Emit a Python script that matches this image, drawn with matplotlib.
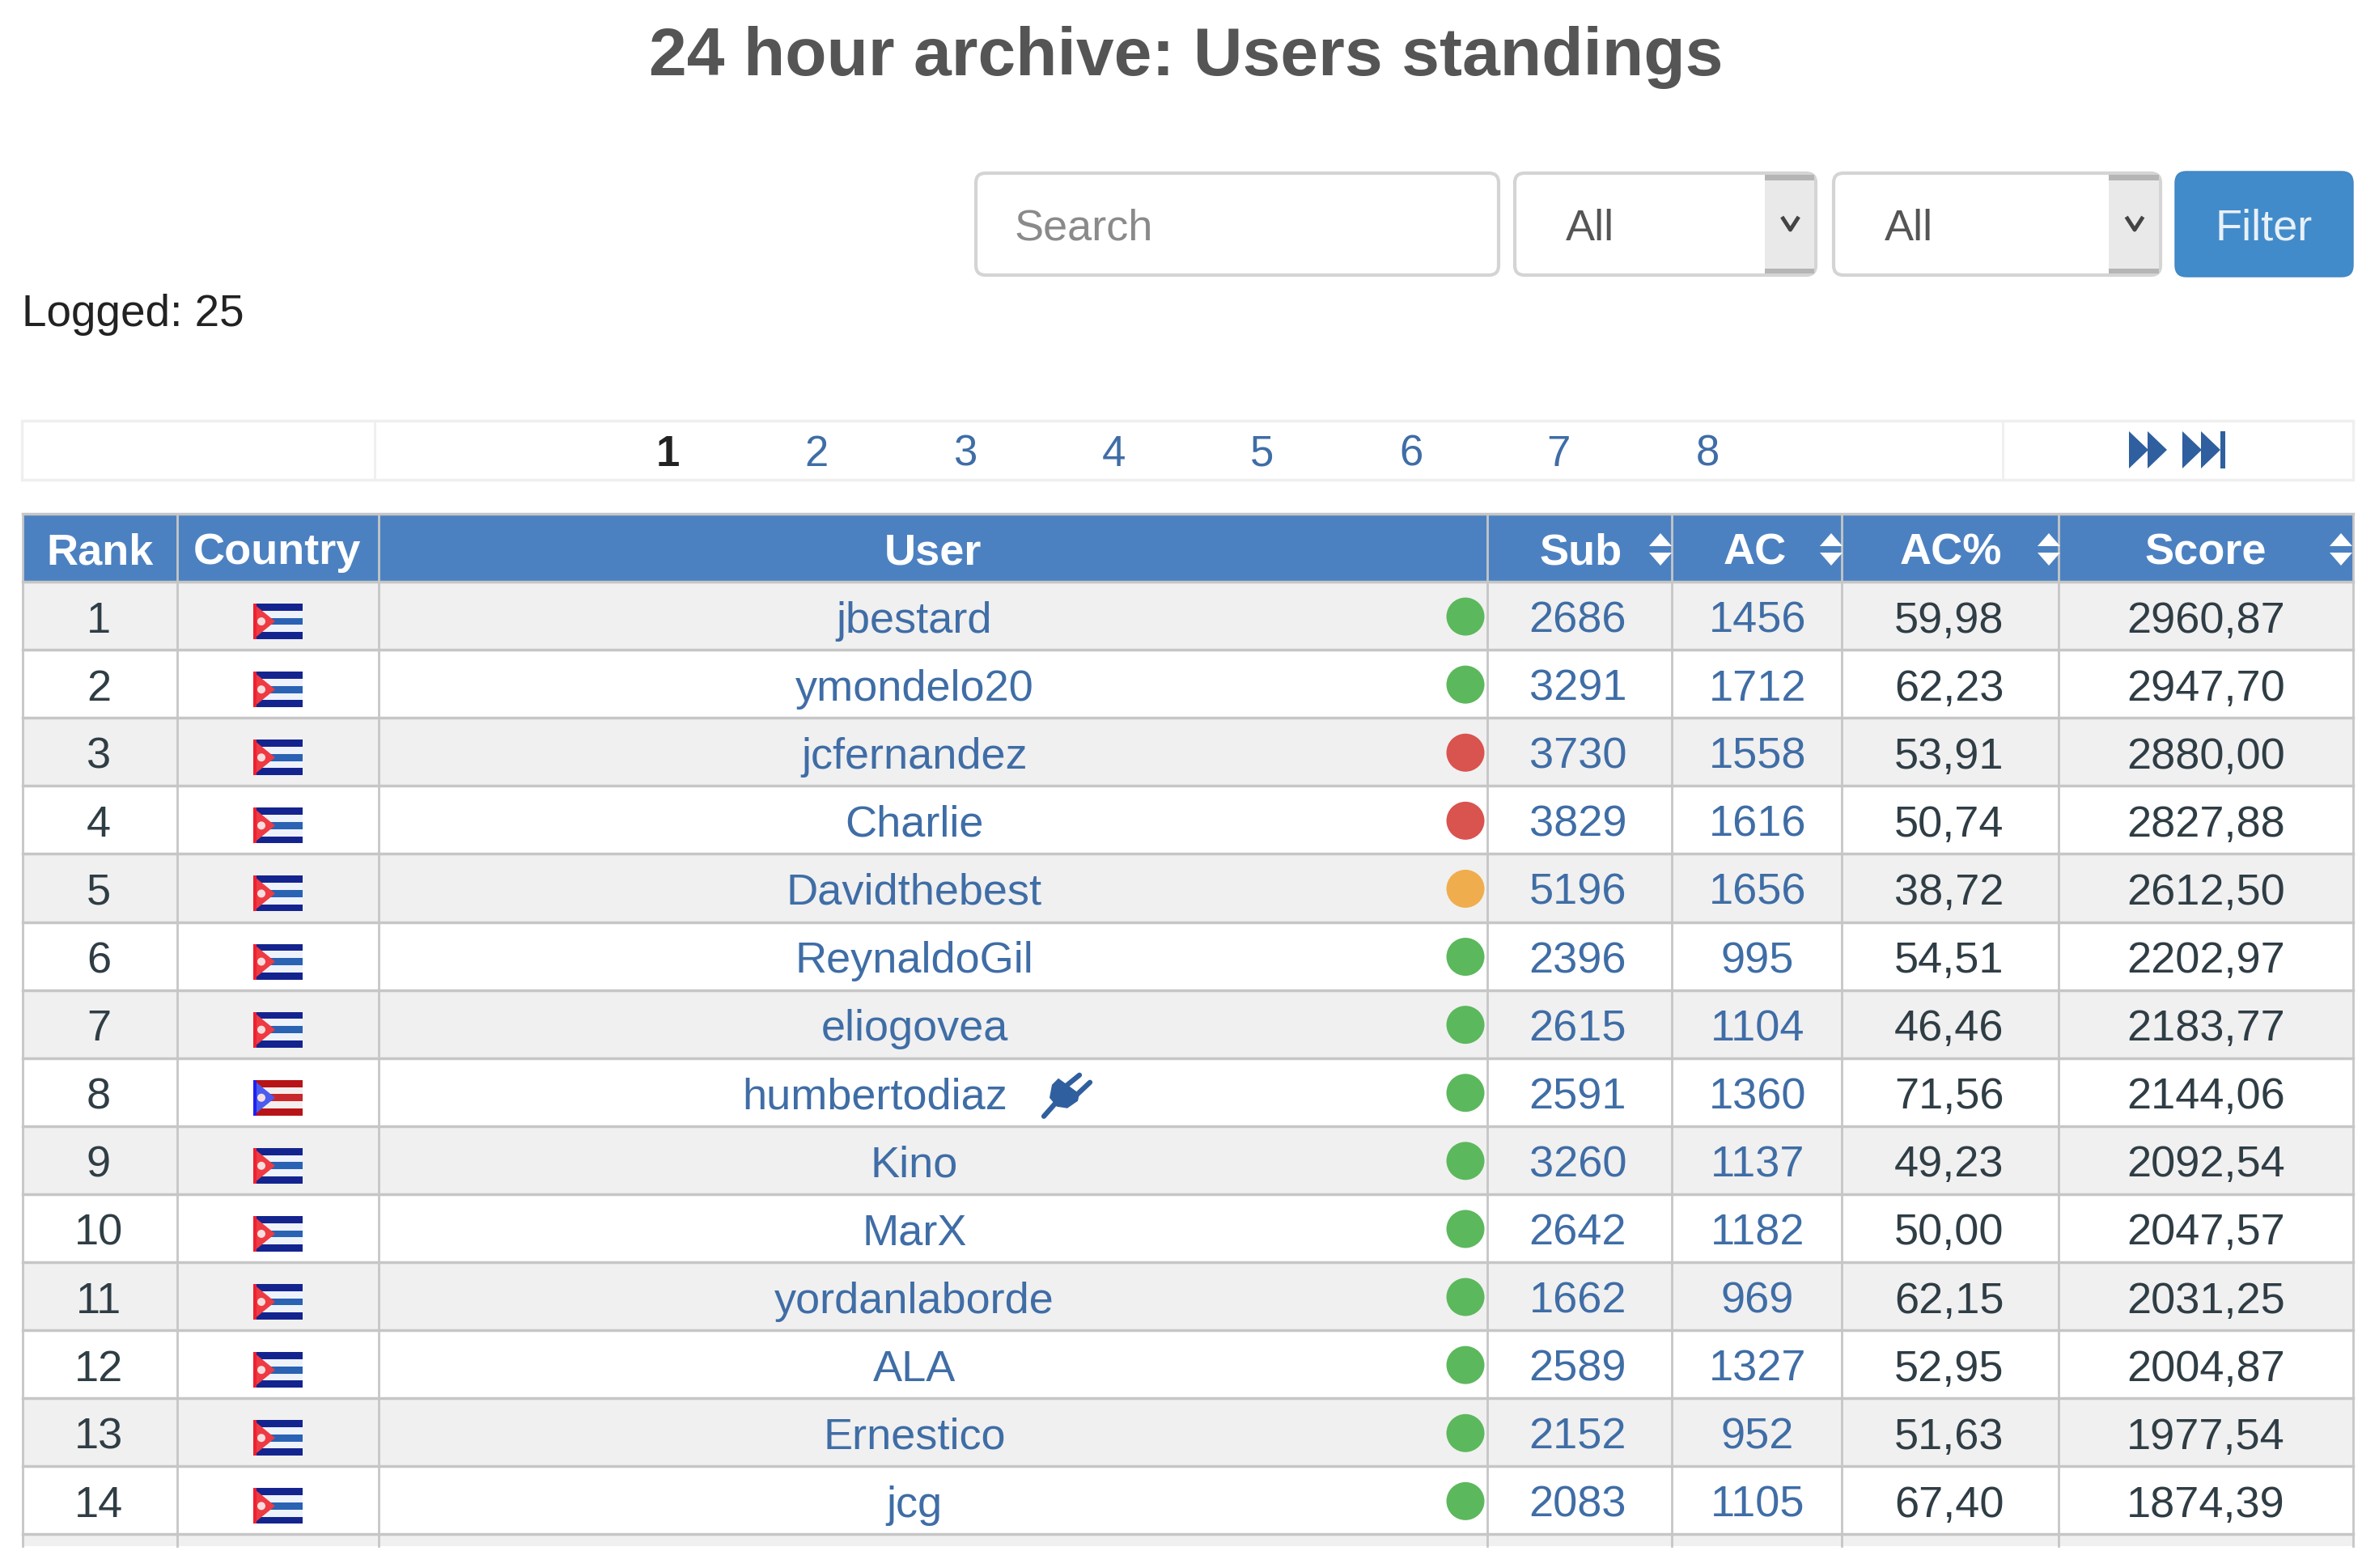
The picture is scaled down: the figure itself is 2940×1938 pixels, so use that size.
import matplotlib
matplotlib.use("Agg")
import matplotlib.pyplot as plt
from matplotlib.patches import Rectangle, FancyBboxPatch, Polygon, Circle

plt.rcParams['font.family'] = ['Liberation Sans', 'DejaVu Sans']

title = "24 hour archive: Users standings"
logged = "Logged: 25"
pages = ["1", "2", "3", "4", "5", "6", "7", "8"]
headers = ["Rank", "Country", "User", "Sub", "AC", "AC%", "Score"]
ranks = list(range(1, 15))
users = ["jbestard", "ymondelo20", "jcfernandez", "Charlie", "Davidthebest", "ReynaldoGil",
         "eliogovea", "humbertodiaz", "Kino", "MarX", "yordanlaborde", "ALA", "Ernestico", "jcg"]
status = ["g", "g", "r", "r", "o", "g", "g", "g", "g", "g", "g", "g", "g", "g"]
subs = [2686, 3291, 3730, 3829, 5196, 2396, 2615, 2591, 3260, 2642, 1662, 2589, 2152, 2083]
acs = [1456, 1712, 1558, 1616, 1656, 995, 1104, 1360, 1137, 1182, 969, 1327, 952, 1105]
acp = ["59,98", "62,23", "53,91", "50,74", "38,72", "54,51", "46,46", "71,56", "49,23",
       "50,00", "62,15", "52,95", "51,63", "67,40"]
scores = ["2960,87", "2947,70", "2880,00", "2827,88", "2612,50", "2202,97", "2183,77",
          "2144,06", "2092,54", "2047,57", "2031,25", "2004,87", "1977,54", "1874,39"]
flags = ["cu"] * 7 + ["pr"] + ["cu"] * 6

W, H = 2940, 1938
fig = plt.figure(figsize=(W / 100, H / 100), dpi=100)
ax = fig.add_axes([0, 0, 1, 1])
ax.set_xlim(0, W)
ax.set_ylim(H, 0)
ax.axis("off")

HEAD = "#4c81c1"
LINE = "#c6c6c6"
LINK = "#3f6da6"
DARK = "#2f3d45"
ICON = "#2f5f9e"
STATUS = {"g": "#5cb85c", "r": "#d9534f", "o": "#f0ad4e"}
FS = 39


def rect(x0, y0, x1, y1, fc, z=1, ec="none", lw=0):
    ax.add_patch(Rectangle((x0, y0), x1 - x0, y1 - y0, fc=fc, ec=ec, lw=lw, zorder=z))


def txt(x, y, s, color=DARK, size=FS, ha="center", weight="normal"):
    ax.text(x, y, s, color=color, fontsize=size, ha=ha, va="center_baseline", fontweight=weight, zorder=6)


def rbox(x0, y0, x1, y1, fc, ec, lw=3, r=12, z=2):
    ax.add_patch(FancyBboxPatch((x0 + r, y0 + r), x1 - x0 - 2 * r, y1 - y0 - 2 * r,
                                boxstyle=f"round,pad={r},rounding_size={r}", fc=fc, ec=ec, lw=lw, zorder=z))


# title and filter row
txt(1466, 62, title, color="#555555", size=60.5, weight="bold")
rbox(1206, 214, 1852, 340, "white", "#d4d4d4")
txt(1254, 277, "Search", color="#8a8a8a", ha="left")
for x0, x1, ax0, tx in [(1872, 2244, 2181, 1935), (2266, 2670, 2606, 2329)]:
    rbox(x0, 214, x1, 340, "white", "#d4d4d4")
    rect(ax0, 218, x1 - 2, 337, "#e9e9e9", z=3)
    rect(ax0, 216, x1 - 2, 223, "#b5b5b5", z=3)
    rect(ax0, 332, x1 - 2, 338, "#b5b5b5", z=3)
    cx = (ax0 + x1) / 2
    ax.plot([cx - 9, cx, cx + 9], [270, 284, 270], color="#444444", lw=3.5, zorder=4)
    txt(tx, 277, "All", color="#555555", ha="left")
rbox(2688, 212, 2908, 342, "#428bca", "#3f85c2", lw=1, r=14)
txt(2798, 277, "Filter", color="#e8f0f8")
txt(27, 383, logged, color="#222222", ha="left", size=39.5)

# pager
rect(27, 520, 2908, 593, "white", z=1, ec="#efefef", lw=2.5)
for x in [463, 2475]:
    ax.plot([x, x], [520, 593], color="#efefef", lw=2, zorder=2)
page_x = [825, 1009, 1193, 1376, 1560, 1744, 1926, 2110]
for i, (x, p) in enumerate(zip(page_x, pages)):
    if i == 0:
        txt(x, 556, p, color="#222222", weight="bold", size=38)
    else:
        txt(x, 556, p, color=LINK, size=38)
for x0 in [2631, 2654, 2697, 2720]:
    ax.add_patch(Polygon([(x0, 533), (x0 + 24, 556), (x0, 579)], fc=ICON, zorder=5))
rect(2744, 533, 2750, 579, ICON, z=5)

# table geometry
cols = [28, 219, 468, 1838, 2066, 2276, 2544, 2908]
top, head_bot = 635, 719
pitch = 84.1
bottom = 1911

rect(cols[0], top, cols[-1], head_bot, HEAD)
for r in range(15):
    y0 = head_bot + r * pitch
    y1 = min(y0 + pitch, bottom)
    rect(cols[0], y0, cols[-1], y1, "#f0f0f0" if r % 2 == 0 else "white")
for r in range(15):
    y = head_bot + r * pitch
    ax.plot([cols[0], cols[-1]], [y, y], color=LINE, lw=2.5, zorder=3)
ax.plot([cols[0], cols[-1]], [top, top], color=LINE, lw=2.5, zorder=3)
for x in cols:
    ax.plot([x, x], [top, bottom], color=LINE, lw=2, zorder=3)

# header
head_x = [124, 342, 1153, 1954, 2169, 2411, 2726]
for x, h in zip(head_x, headers):
    txt(x, 678, h, color="white", weight="bold")
for x in [2052, 2263, 2532, 2893]:
    ax.add_patch(Polygon([(x - 14, 675), (x, 659), (x + 14, 675)], fc="white", zorder=5))
    ax.add_patch(Polygon([(x - 14, 683), (x, 699), (x + 14, 683)], fc="white", zorder=5))


def flag(x0, y0, kind):
    w, h = 61, 44
    x1, ym = x0 + w, y0 + h / 2
    if kind == "cu":
        stripes = ["#14248f", "#eef2fa", "#2a62b4", "#eef2fa", "#14248f"]
        tri, edge = "#ee3a42", "#ee2030"
    else:
        stripes = ["#b81418", "#f4eeee", "#c8282c", "#f4eeee", "#b81418"]
        tri, edge = "#4a5cf0", "#2020f0"
    for k, c in enumerate(stripes):
        rect(x0, y0 + k * h / 5, x1, y0 + (k + 1) * h / 5, c, z=3)
    ax.add_patch(Polygon([(x0, y0), (x0 + 27, ym), (x0, y0 + h)], fc=tri, zorder=4))
    rect(x0, y0, x0 + 4, y0 + h, edge, z=4)
    ax.add_patch(Circle((x0 + 10, ym), 5, fc="#f6dede", zorder=5))


def plug(px, py):
    body = [(-10, -9), (-2, -17), (24, 2), (22, 11), (9, 20), (-4, 18), (-13, 7)]
    ax.add_patch(Polygon([(px + a, py + b) for a, b in body], fc=ICON, zorder=5))
    for a0, b0, a1, b1 in [(8, -8, 24, -21), (20, 4, 37, -12), (-5, 13, -20, 30)]:
        ax.plot([px + a0, px + a1], [py + b0, py + b1], color=ICON, lw=4.5, zorder=5,
                solid_capstyle="round")


for r in range(14):
    yc = head_bot + (r + 0.5) * pitch
    ty = yc + 1
    txt(122, ty, str(ranks[r]), color=DARK)
    flag(313, yc - 15, flags[r])
    if users[r] == "humbertodiaz":
        txt(1081, ty, users[r], color=LINK)
        plug(1310, yc)
    else:
        txt(1130, ty, users[r], color=LINK)
    ax.add_patch(Circle((1811, yc + 1), 23.5, fc=STATUS[status[r]], zorder=5))
    txt(1950, ty, str(subs[r]), color=LINK)
    txt(2172, ty, str(acs[r]), color=LINK)
    txt(2409, ty, acp[r], color=DARK)
    txt(2726, ty, scores[r], color=DARK)

fig.savefig("out.png", dpi=100)
